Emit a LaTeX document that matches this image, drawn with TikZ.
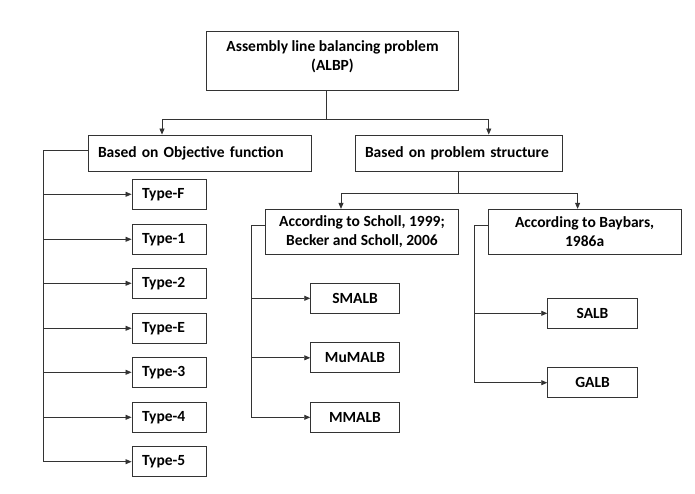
\documentclass[tikz,border=0pt]{standalone}
\usepackage{fontspec}
\setmainfont{Carlito}
\usetikzlibrary{arrows.meta}
\definecolor{linecolor}{rgb}{0.2,0.2,0.2}

\begin{document}
\begin{tikzpicture}[x=1pt,y=-1pt,
  box/.style={draw=linecolor, line width=0.9pt, font=\bfseries\fontsize{15.5}{19.5}\selectfont, inner sep=0pt, align=center},
  leftbox/.style={box, inner xsep=10pt, align=left},
  arr/.style={draw=linecolor, line width=0.8pt, -{Triangle[length=6pt,width=5pt]}},
  ln/.style={draw=linecolor, line width=0.8pt}]
\useasboundingbox (0,0) rectangle (695,494);

\node[box, minimum width=252pt, minimum height=59pt, text depth=10pt] (albp) at (332.5,60.5) {Assembly line balancing problem\\(ALBP)};

\node[leftbox, text width=203pt, minimum height=36pt] (obj) at (199.5,153) {Based on Objective function};
\node[leftbox, text width=187.5pt, minimum height=36pt] (struct) at (458.75,153) {Based on problem structure};

\coordinate (trunk) at (326,119.3);
\draw[ln] (albp.south -| trunk) -- (trunk);
\draw[arr] (trunk) -| ([xshift=-37.5pt]obj.north);
\draw[arr] (trunk) -| ([xshift=30pt]struct.north);

\node[leftbox, text width=54pt, minimum height=30pt] (typeF) at (169,194.3) {Type-F};
\node[leftbox, text width=54pt, minimum height=30pt] (type1) at (169,239.3) {Type-1};
\node[leftbox, text width=54pt, minimum height=30pt] (type2) at (169,283.3) {Type-2};
\node[leftbox, text width=54pt, minimum height=30pt] (typeE) at (169,328.3) {Type-E};
\node[leftbox, text width=54pt, minimum height=30pt] (type3) at (169,372.3) {Type-3};
\node[leftbox, text width=54pt, minimum height=30pt] (type4) at (169,417.3) {Type-4};
\node[leftbox, text width=54pt, minimum height=30pt] (type5) at (169,461.7) {Type-5};

\coordinate (objline) at (43,150);
\draw[ln] ([yshift=3pt]obj.west) -- (objline) -- (objline |- type5.west);
\foreach \t in {typeF,type1,type2,typeE,type3,type4,type5}
  \draw[arr] (objline |- \t.west) -- (\t.west);

\node[box, minimum width=192.6pt, minimum height=45pt] (scholl) at (362,231.8) {According to Scholl, 1999;\\Becker and Scholl, 2006};
\node[box, minimum width=192.7pt, minimum height=45pt] (baybars) at (584.6,231.8) {According to Baybars,\\1986a};

\coordinate (split) at (458.5,193.3);
\draw[ln] (struct.south -| split) -- (split);
\draw[arr] (split) -| ([xshift=-21pt]scholl.north);
\draw[arr] (split) -| ([xshift=-7pt]baybars.north);

\node[box, minimum width=88.6pt, minimum height=30pt] (smalb) at (355,298.3) {SMALB};
\node[box, minimum width=88.6pt, minimum height=30pt] (mumalb) at (355,357.8) {MuMALB};
\node[box, minimum width=88.6pt, minimum height=30pt] (mmalb) at (355,417.3) {MMALB};

\coordinate (scholline) at (251,225);
\draw[ln] ([yshift=6.8pt]scholl.west) -- (scholline) -- (scholline |- mmalb.west);
\foreach \t in {smalb,mumalb,mmalb}
  \draw[arr] (scholline |- \t.west) -- (\t.west);

\node[box, minimum width=89.6pt, minimum height=30pt] (salb) at (592.5,313.3) {SALB};
\node[box, minimum width=89.6pt, minimum height=30pt] (galb) at (592.5,382.7) {GALB};

\coordinate (baybline) at (474,225);
\draw[ln] ([yshift=6.8pt]baybars.west) -- (baybline) -- (baybline |- galb.west);
\foreach \t in {salb,galb}
  \draw[arr] (baybline |- \t.west) -- (\t.west);

\end{tikzpicture}
\end{document}
